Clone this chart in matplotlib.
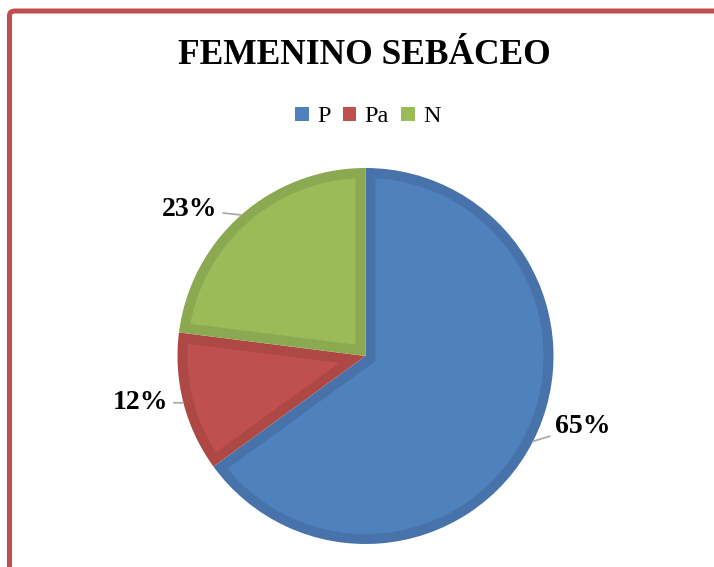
import numpy as np
import matplotlib
matplotlib.use("Agg")
import matplotlib.pyplot as plt
from matplotlib.patches import Patch, FancyBboxPatch, Polygon

# datos del grafico
labels = ["P", "Pa", "N"]
values = [65, 12, 23]
pct_text = ["65%", "12%", "23%"]
colors = ["#4F81BD", "#C0504D", "#9BBB59"]
edge_colors = ["#4773AA", "#AD4845", "#8BA950"]

plt.rcParams['font.family'] = ['Liberation Serif', 'DejaVu Serif']

W, H = 714, 567
fig = plt.figure(figsize=(W / 100, H / 100), dpi=100)

# marco rojo (recortado por la derecha y abajo)
frame = FancyBboxPatch((9.5 / W, -0.1), 1.2, 1.1 - 11 / H,
                       boxstyle="round,pad=0,rounding_size=0.008",
                       transform=fig.transFigure, fill=False,
                       edgecolor="#C0504D", linewidth=3.6, zorder=0)
fig.patches.append(frame)

# centro y radio del pastel en pixeles
cx, cy, r = 365.5, 356, 188
ax = fig.add_axes([(cx - r) / W, (H - cy - r) / H, 2 * r / W, 2 * r / H])

wedges, _ = ax.pie(values, colors=edge_colors, startangle=90, counterclock=False,
                   radius=1, wedgeprops=dict(linewidth=0))
ax.set_xlim(-1, 1)
ax.set_ylim(-1, 1)
ax.set_aspect('equal')
ax.axis('off')


def inset_wedge(t1, t2, d):
    # sector reducido hacia dentro una distancia d (bisel)
    a1, a2 = np.deg2rad(t1), np.deg2rad(t2)
    half = (a2 - a1) / 2
    b = (a1 + a2) / 2
    p = d / np.sin(half) * np.array([np.cos(b), np.sin(b)])
    R = 1 - d
    ends = []
    for a in (a1, a2):
        u = np.array([np.cos(a), np.sin(a)])
        pu = p @ u
        t = -pu + np.sqrt(pu ** 2 - p @ p + R ** 2)
        e = p + t * u
        ends.append(np.arctan2(e[1], e[0]))
    f1, f2 = ends
    while f2 < f1:
        f2 += 2 * np.pi
    arc = np.linspace(f1, f2, 200)
    pts = np.vstack([p, np.column_stack([R * np.cos(arc), R * np.sin(arc)])])
    return pts


d = 10 / r
for w, c in zip(wedges, colors):
    ax.add_patch(Polygon(inset_wedge(w.theta1, w.theta2, d), closed=True,
                         facecolor=c, edgecolor='none', zorder=w.get_zorder() + 0.1))

# etiquetas de porcentaje con linea guia
offsets = [(16, 11, 'left'), (-11, 0, 'right'), (-17, 4, 'right')]
for w, txt, (dx, dy, ha) in zip(wedges, pct_text, offsets):
    ang = np.deg2rad((w.theta1 + w.theta2) / 2)
    xy = (np.cos(ang), np.sin(ang))
    ax.annotate(txt, xy=xy, xytext=(dx, dy), textcoords='offset points',
                ha=ha, va='center', fontsize=20, fontweight='bold',
                arrowprops=dict(arrowstyle='-', color='#A6A6A6', lw=1.2,
                                shrinkA=2, shrinkB=0))

fig.text(364 / W, 1 - 55 / H, "FEMENINO SEBÁCEO", ha='center', va='center',
         fontsize=25.5, fontweight='bold')

handles = [Patch(facecolor=c, edgecolor='none') for c in colors]
fig.legend(handles, labels, loc='center', bbox_to_anchor=(368 / W, 1 - 117 / H),
           ncol=3, frameon=False, fontsize=17.5, handlelength=0.55,
           handleheight=0.55, handletextpad=0.35, columnspacing=0.5)

fig.savefig("out.png", dpi=100)
